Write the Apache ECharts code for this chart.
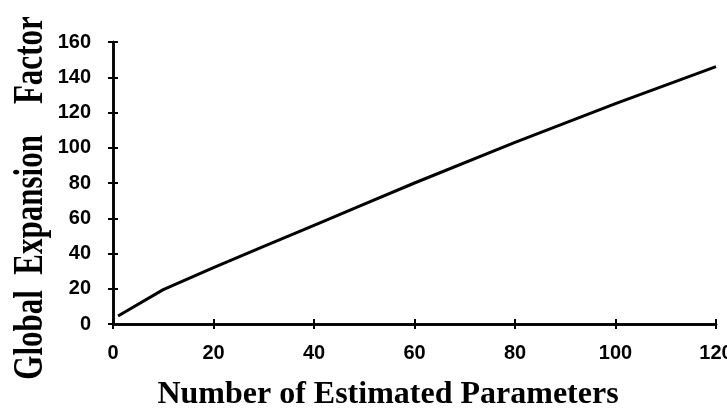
<!DOCTYPE html>
<html>
<head>
<meta charset="utf-8">
<script src="https://cdn.jsdelivr.net/npm/echarts@6/dist/echarts.min.js"></script>
<style>
html,body{margin:0;padding:0;background:#fff;}
#chart{width:727px;height:408px;}
</style>
</head>
<body>
<div id="chart"></div>
<script>
// Number of estimated parameters (x) and global expansion factor (y)
const params = [1, 10, 20, 30, 40, 50, 60, 80, 100, 120];
const factor = [4.5, 19.5, 32, 44, 56, 68, 80, 103, 125, 146];
const xTitle = 'Number of Estimated Parameters';
const yTitle = 'Global  Expansion    Factor';

const labelFont = { color: '#000', fontFamily: '"Liberation Sans Narrow", "Liberation Sans", Arial, sans-serif', fontWeight: 'bold', fontSize: 20 };
const titleFont = { color: '#000', fontFamily: '"Liberation Serif", "Times New Roman", serif', fontWeight: 'bold', fontSize: 32 };
const axisLine = { show: true, lineStyle: { color: '#000', width: 2.5 } };
const tickStyle = { color: '#000', width: 2 };

const chart = echarts.init(document.getElementById('chart'), null, { renderer: 'canvas' });
chart.setOption({
  animation: false,
  backgroundColor: '#fff',
  grid: { left: 113, right: 11, top: 42, bottom: 84, containLabel: false, outerBoundsMode: 'none' },
  xAxis: [
    {
      type: 'value', min: 0, max: 120, interval: 20, position: 'bottom',
      axisLine: axisLine,
      axisTick: { show: true, inside: false, length: 5, lineStyle: tickStyle },
      axisLabel: Object.assign({ margin: 19 }, labelFont),
      splitLine: { show: false },
      name: xTitle, nameLocation: 'middle', nameGap: 55,
      nameTextStyle: Object.assign({ padding: [0, 53, 0, 0] }, titleFont)
    },
    {
      type: 'value', min: 0, max: 120, interval: 20, position: 'bottom',
      axisLine: axisLine,
      axisTick: { show: true, inside: true, length: 5, lineStyle: tickStyle },
      axisLabel: { show: false }, splitLine: { show: false }
    }
  ],
  yAxis: [
    {
      type: 'value', min: 0, max: 160, interval: 20, position: 'left',
      axisLine: axisLine,
      axisTick: { show: true, inside: false, length: 5, lineStyle: tickStyle },
      axisLabel: Object.assign({ margin: 22 }, labelFont),
      splitLine: { show: false }
    },
    {
      type: 'value', min: 0, max: 160, interval: 20, position: 'left',
      axisLine: axisLine,
      axisTick: { show: true, inside: true, length: 5, lineStyle: tickStyle },
      axisLabel: { show: false }, splitLine: { show: false }
    }
  ],
  graphic: [{
    type: 'text',
    x: 31, y: 198,
    rotation: Math.PI / 2,
    scaleY: 1.35,
    style: {
      text: yTitle,
      font: 'bold 31px "Liberation Serif", "Times New Roman", serif',
      fill: '#000',
      textAlign: 'center',
      textVerticalAlign: 'middle'
    }
  }],
  series: [{
    type: 'line',
    xAxisIndex: 0, yAxisIndex: 0,
    data: params.map((p, i) => [p, factor[i]]),
    showSymbol: false, symbol: 'none',
    lineStyle: { color: '#000', width: 3 },
    smooth: false
  }]
});
</script>
</body>
</html>
